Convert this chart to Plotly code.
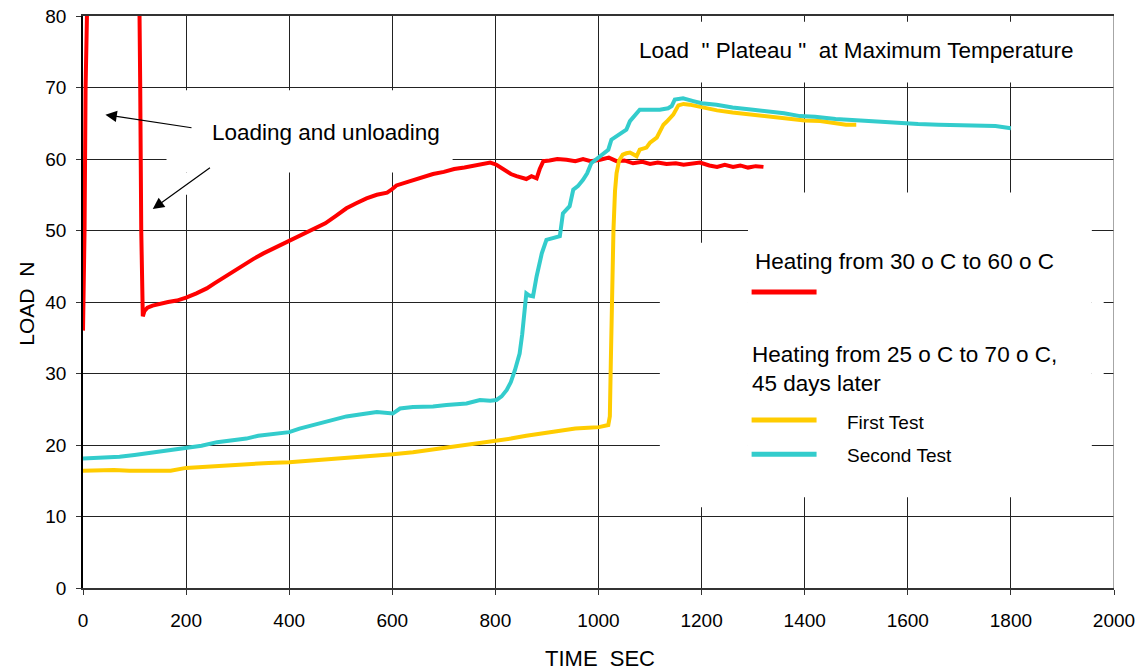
import plotly.graph_objects as go

# ---------------- data ----------------
red_t = [0, 3, 5, 8, 9, 109, 110, 111, 113, 116,
         119, 125, 135, 150, 165, 182, 200, 220, 240, 255,
         270, 290, 310, 330, 350, 370, 385, 400, 420, 446,
         470, 490, 511, 530, 550, 570, 590, 600, 608, 630,
         650, 679, 700, 720, 740, 760, 776, 790, 802, 815,
         830, 841, 850, 860, 870, 880, 886, 893, 905, 920,
         938, 955, 970, 985, 1003, 1020, 1035, 1050, 1067, 1085,
         1100, 1115, 1132, 1150, 1165, 1180, 1197, 1215, 1230, 1245,
         1261, 1275, 1290, 1305, 1320]
red_v = [36.0, 50.0, 70.0, 80.0, 85.0, 85.0, 80.0, 70.0, 50.0, 38.0,
         38.7, 39.2, 39.5, 39.8, 40.0, 40.2, 40.6, 41.2, 41.9, 42.6,
         43.3, 44.3, 45.2, 46.0, 46.8, 47.5, 48.0, 48.6, 49.2, 50.1,
         51.0, 52.0, 53.1, 53.8, 54.5, 55.0, 55.3, 55.8, 56.3, 56.8,
         57.3, 57.9, 58.2, 58.6, 58.8, 59.1, 59.4, 59.5, 59.2, 58.6,
         57.9, 57.6, 57.4, 57.2, 57.6, 57.3, 58.6, 59.7, 59.8, 60.0,
         59.9, 59.7, 60.0, 59.7, 59.9, 60.2, 59.7, 59.8, 59.4, 59.6,
         59.3, 59.5, 59.3, 59.4, 59.2, 59.4, 59.5, 59.1, 58.9, 59.2,
         58.9, 59.1, 58.8, 59.0, 58.9]

first_t = [0, 30, 60, 90, 120, 149, 170, 200, 240, 280,
           320, 360, 400, 440, 480, 520, 560, 601, 640, 680,
           720, 770, 802, 830, 860, 880, 906, 930, 955, 980,
           1001, 1019, 1022, 1024, 1026, 1029, 1032, 1035, 1040, 1047,
           1054, 1061, 1074, 1080, 1093, 1100, 1113, 1126, 1132, 1145,
           1155, 1165, 1177, 1190, 1200, 1230, 1260, 1300, 1330, 1360,
           1400, 1430, 1460, 1480, 1500]
first_v = [16.4, 16.5, 16.5, 16.4, 16.4, 16.3, 16.4, 16.8, 17.0, 17.2,
           17.4, 17.5, 17.6, 17.8, 18.0, 18.2, 18.5, 18.7, 19.0, 19.4,
           19.8, 20.2, 20.5, 20.9, 21.3, 21.5, 21.7, 22.0, 22.3, 22.4,
           22.5, 22.8, 24.0, 32.0, 41.0, 50.0, 55.5, 58.0, 59.8, 60.6,
           60.8, 60.9, 60.4, 61.3, 61.6, 62.3, 63.0, 64.8, 65.2, 66.2,
           67.5, 67.7, 67.6, 67.4, 67.2, 66.8, 66.5, 66.2, 65.9, 65.8,
           65.4, 65.3, 65.0, 64.8, 64.8]

second_t = [0, 30, 71, 100, 130, 160, 200, 230, 260, 290,
            317, 340, 370, 400, 420, 440, 460, 480, 511, 540,
            570, 601, 615, 640, 660, 679, 705, 725, 744, 770,
            790, 802, 812, 822, 830, 838, 847, 852, 857, 860,
            866, 873, 880, 890, 899, 912, 925, 931, 944, 951,
            960, 970, 978, 986, 1003, 1019, 1025, 1041, 1054, 1061,
            1074, 1080, 1100, 1119, 1135, 1142, 1148, 1164, 1184, 1200,
            1229, 1260, 1300, 1326, 1360, 1391, 1420, 1460, 1500, 1540,
            1585, 1620, 1660, 1700, 1740, 1770, 1800]
second_v = [18.1, 18.2, 18.35, 18.6, 18.9, 19.2, 19.5, 19.9, 20.4, 20.7,
            20.9, 21.3, 21.6, 21.8, 22.3, 22.7, 23.1, 23.5, 24.0, 24.3,
            24.6, 24.4, 25.1, 25.3, 25.3, 25.4, 25.6, 25.7, 25.8, 26.3,
            26.2, 26.3, 26.8, 27.7, 28.8, 30.5, 32.8, 35.5, 38.4, 41.2,
            40.9, 40.8, 43.6, 46.8, 48.7, 49.0, 49.2, 52.4, 53.4, 55.7,
            56.2, 57.1, 58.0, 59.4, 60.4, 61.3, 62.7, 63.4, 64.1, 65.3,
            66.4, 66.9, 66.9, 66.9, 67.1, 67.4, 68.3, 68.5, 68.1, 67.8,
            67.6, 67.2, 66.9, 66.7, 66.4, 66.0, 65.9, 65.6, 65.4, 65.3,
            65.0, 64.9, 64.8, 64.7, 64.6, 64.6, 64.3]

x_ticks = [0, 200, 400, 600, 800, 1000, 1200, 1400, 1600, 1800, 2000]
y_ticks = [0, 10, 20, 30, 40, 50, 60, 70, 80]

RED = "#FF0000"
YEL = "#FFCC00"
CYA = "#33CCCC"
FONT = "Liberation Sans, Arial, sans-serif"
NB = "\u00a0"

L, R, T, B = 83.3, 1114.3, 16.3, 587.7
W, H = 1144, 671


def px_to_paper_x(px):
    return (px - L) / (R - L)


def px_to_paper_y(py):
    return (B - py) / (B - T)


fig = go.Figure()
fig.add_trace(go.Scatter(x=red_t, y=red_v, mode="lines",
                         line=dict(color=RED, width=4), showlegend=False))
fig.add_trace(go.Scatter(x=first_t, y=first_v, mode="lines",
                         line=dict(color=YEL, width=4), showlegend=False))
fig.add_trace(go.Scatter(x=second_t, y=second_v, mode="lines",
                         line=dict(color=CYA, width=4), showlegend=False))

# white text boxes hiding grid
boxes = [
    (162, 717, 58.1, 69.6),
    (162, 323, 55.0, 58.1),
    (1032, 1995, 70.7, 79.2),
    (1290, 1957, 12.7, 55.3),
    (1119, 1290, 11.3, 48.3),
    (1957, 1980, 26.3, 45.9),
]
shapes = []
for x0, x1, y0, y1 in boxes:
    shapes.append(dict(type="rect", xref="x", yref="y", x0=x0, x1=x1, y0=y0, y1=y1,
                       fillcolor="white", line=dict(width=0), layer="between"))
# right border
shapes.append(dict(type="line", xref="x", yref="y", x0=2000, x1=2000, y0=0, y1=80,
                   line=dict(color="#888888", width=1.5), layer="above"))
# legend samples
for yv, col in [(41.4, RED), (23.5, YEL), (18.7, CYA)]:
    shapes.append(dict(type="line", xref="x", yref="y", x0=1297, x1=1423, y0=yv, y1=yv,
                       line=dict(color=col, width=5), layer="above"))

annotations = [
    dict(x=246, y=63.7, xref="x", yref="y", text="Loading and unloading",
         showarrow=False, xanchor="left", yanchor="middle", font=dict(size=22.5)),
    dict(x=1074, y=75.2, xref="x", yref="y",
         text="Load" + NB + NB + "\"" + NB + "Plateau" + NB + "\"" + NB + NB + "at Maximum Temperature",
         showarrow=False, xanchor="left", yanchor="middle", font=dict(size=22.5)),
    dict(x=1300, y=45.7, xref="x", yref="y", text="Heating from 30 o C to 60 o C",
         showarrow=False, xanchor="left", yanchor="middle", font=dict(size=22.5)),
    dict(x=1293, y=30.6, xref="x", yref="y",
         text="Heating from 25 o C to 70 o C,<br>45 days later",
         showarrow=False, xanchor="left", yanchor="middle", align="left", font=dict(size=22.5)),
    dict(x=1478, y=23.2, xref="x", yref="y", text="First Test",
         showarrow=False, xanchor="left", yanchor="middle", font=dict(size=19)),
    dict(x=1478, y=18.6, xref="x", yref="y", text="Second Test",
         showarrow=False, xanchor="left", yanchor="middle", font=dict(size=19)),
    # arrows
    dict(x=43.5, y=66.2, xref="x", yref="y", ax=87.6, ay=13.3, axref="pixel", ayref="pixel",
         text="", showarrow=True, arrowhead=2, arrowsize=1.9, arrowwidth=1.2, arrowcolor="black",
         standoff=0),
    dict(x=135.3, y=53.0, xref="x", yref="y", ax=58.7, ay=-42.3, axref="pixel", ayref="pixel",
         text="", showarrow=True, arrowhead=2, arrowsize=1.9, arrowwidth=1.2, arrowcolor="black",
         standoff=0),
    # axis titles
    dict(x=px_to_paper_x(600), y=px_to_paper_y(658), xref="paper", yref="paper",
         text="TIME" + NB + NB + "SEC",
         showarrow=False, xanchor="center", yanchor="middle", font=dict(size=22)),
    dict(x=px_to_paper_x(26), y=px_to_paper_y(304), xref="paper", yref="paper",
         text="LOAD" + NB + NB + "N", textangle=-90,
         showarrow=False, xanchor="center", yanchor="middle", font=dict(size=21)),
]

fig.update_layout(
    width=W, height=H,
    margin=dict(l=L, r=W - R, t=T, b=H - B, autoexpand=False),
    paper_bgcolor="white", plot_bgcolor="white",
    font=dict(family=FONT, color="black"),
    shapes=shapes, annotations=annotations,
    showlegend=False,
)
fig.update_xaxes(range=[0, 2000], tickvals=x_ticks, ticktext=[str(v) for v in x_ticks],
                 showgrid=True, gridcolor="#222222", gridwidth=1, zeroline=False,
                 showline=True, linecolor="#333333", linewidth=1.5, mirror=True,
                 ticks="outside", ticklen=5, tickcolor="#333333", automargin=False,
                 tickfont=dict(size=19, family=FONT, color="black"), ticklabelstandoff=9)
fig.update_yaxes(range=[0, 80], tickvals=y_ticks, ticktext=[str(v) for v in y_ticks],
                 showgrid=True, gridcolor="#222222", gridwidth=1, zeroline=False,
                 showline=True, linecolor="black", linewidth=1.5, automargin=False,
                 ticks="outside", ticklen=5, tickcolor="#333333",
                 tickfont=dict(size=19, family=FONT, color="black"), ticklabelstandoff=6)

fig.write_html("out.html")
